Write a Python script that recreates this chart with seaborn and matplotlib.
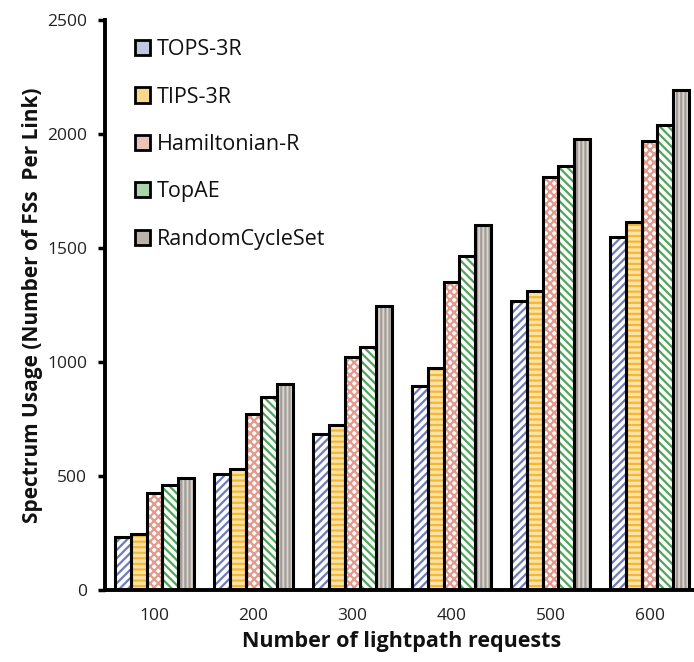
import numpy as np
import pandas as pd
import matplotlib
matplotlib.use("Agg")
import matplotlib.pyplot as plt
import seaborn as sns
from matplotlib.patches import Patch, Rectangle

requests = ["100", "200", "300", "400", "500", "600"]
methods = ["TOPS-3R", "TIPS-3R", "Hamiltonian-R", "TopAE", "RandomCycleSet"]
tops_3r = [232, 509, 684, 895, 1268, 1550]
tips_3r = [246, 531, 724, 974, 1312, 1612]
hamiltonian_r = [425, 772, 1022, 1350, 1813, 1969]
topae = [461, 846, 1066, 1464, 1858, 2039]
random_cycle = [491, 904, 1246, 1601, 1976, 2193]
y_ticks = [0, 500, 1000, 1500, 2000, 2500]

series = [tops_3r, tips_3r, hamiltonian_r, topae, random_cycle]
rows = []
for m, vals in zip(methods, series):
    for r, v in zip(requests, vals):
        rows.append({"requests": r, "method": m, "value": v})
df = pd.DataFrame(rows)

sns.set_theme(style="white")
plt.rcParams["font.family"] = ["Open Sans", "DejaVu Sans"]
plt.rcParams["hatch.linewidth"] = 1.6

hatch_colors = ["#6f7bbd", "#f5b735", "#e39a8c", "#4fa65a", "#a39c96"]
face_colors = ["white", "#fbe3a8", "white", "white", "#d9d5d1"]
hatches = ["////", "---", "xxxx", "\\\\\\\\", "||||"]
legend_colors = ["#c3c6e2", "#f8d98c", "#eac4bb", "#a9d5ab", "#b9b3ae"]

fig = plt.figure(figsize=(6.94, 6.62), dpi=100)
ax = fig.add_axes([105 / 694, 72 / 662, 594 / 694, 570 / 662])

sns.barplot(data=df, x="requests", y="value", hue="method", order=requests,
            hue_order=methods, width=0.8, ax=ax, legend=False, saturation=1)

for i, cont in enumerate(ax.containers):
    for bar in cont:
        bar.set_facecolor(face_colors[i])
        bar.set_edgecolor(hatch_colors[i])
        bar.set_hatch(hatches[i])
        bar.set_linewidth(0)
        ax.add_patch(Rectangle(bar.get_xy(), bar.get_width(), bar.get_height(),
                               fill=False, edgecolor="black", linewidth=2.2,
                               zorder=3))

ax.set_ylim(0, 2500)
ax.set_xlim(-0.5, 5.5)
ax.set_yticks(y_ticks)
ax.set_yticklabels([str(t) for t in y_ticks], fontsize=12.5, color="#222222")
ax.set_xticks(np.arange(len(requests)))
ax.set_xticklabels(requests, fontsize=12.5, color="#222222")
ax.tick_params(axis="x", length=0, pad=13)
ax.set_xticks(np.arange(len(requests) + 1) - 0.5, minor=True)
ax.tick_params(axis="x", which="minor", length=4, width=2.5, color="black", direction="out")
ax.tick_params(axis="y", length=5, width=2.5, color="black", direction="out", pad=8, left=True)

for s in ["top", "right"]:
    ax.spines[s].set_visible(False)
for s in ["left", "bottom"]:
    ax.spines[s].set_linewidth(2.8)
    ax.spines[s].set_color("black")

ax.set_xlabel("Number of lightpath requests", fontsize=15.5, fontweight="bold",
              color="#111111", labelpad=5)
ax.set_ylabel("Spectrum Usage (Number of FSs  Per Link)", fontsize=15,
              fontweight="bold", color="#111111")
ax.yaxis.set_label_coords(-0.105, 0.5)

handles = [Patch(facecolor=c, edgecolor="black", linewidth=2) for c in legend_colors]
leg = ax.legend(handles, methods, loc="upper left", bbox_to_anchor=(0.025, 0.993),
                frameon=False, fontsize=15.5, labelspacing=1.23, handlelength=0.7,
                handleheight=0.7, handletextpad=0.3, borderaxespad=0.3)
for t in leg.get_texts():
    t.set_color("#111111")

fig.savefig("out.png", dpi=100)
